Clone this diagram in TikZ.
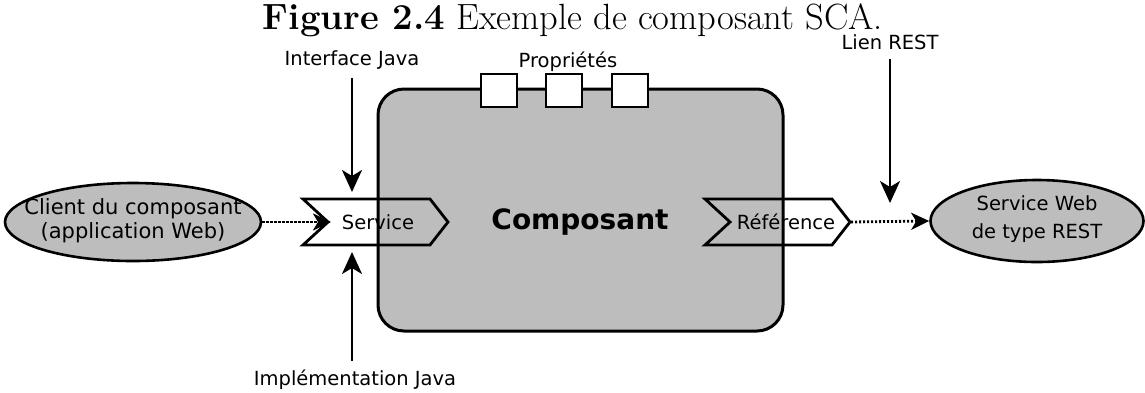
\documentclass[tikz,border=0pt]{standalone}
\usepackage{fontspec}
\setsansfont{DejaVu Sans}
\usetikzlibrary{arrows.meta,shapes.geometric}
\definecolor{compgray}{gray}{0.74}

\begin{document}
\begin{tikzpicture}[x=1pt,y=-1pt,
  lbl/.style={font=\fontsize{19.5}{22}\selectfont\sffamily, inner sep=0pt},
  inlbl/.style={font=\fontsize{20}{24}\selectfont\sffamily, inner sep=0pt, align=center},
  compbox/.style={draw=black, line width=3pt, fill=compgray, rounded corners=26pt},
  propbox/.style={draw=black, line width=2.6pt, fill=white},
  port/.style={draw=black, line width=2.8pt, line join=miter},
  actor/.style={ellipse, draw=black, line width=2.6pt, fill=compgray, inner sep=0pt},
  pointer/.style={line width=2.4pt, -{Stealth[length=22pt,width=20pt,inset=6pt]}},
  wire/.style={line width=2.8pt, dash pattern=on 2.2pt off 1.8pt, -{Stealth[length=18pt,width=17pt,inset=5pt]}}
]
\useasboundingbox (0,0) rectangle (1145,392);

% caption
\node[inner sep=0pt, anchor=base] (cap) at (573,29)
  {\fontsize{36.5}{40}\selectfont\textbf{Figure 2.4} Exemple de composant SCA.};

% component body
\draw[compbox] (378,89) rectangle (783,331);
\node[inner sep=0pt, font=\fontsize{28}{32}\selectfont\sffamily\bfseries] (comp) at (580,222) {Composant};

% property boxes on the top edge
\draw[propbox] (481,74) rectangle (517,107);
\draw[propbox] (546,74) rectangle (582,107);
\draw[propbox] (612,74) rectangle (648,107);
\node[lbl] (props) at (568,62) {Propriétés};

% service port
\draw[port] (303,199) -- (430,199) -- (448,222) -- (430,245) -- (303,245) -- (328,222) -- cycle;
\node[lbl] (svc) at (378,222) {Service};
\coordinate (svcin) at (331,222);
\coordinate (svctop) at (352,192);
\coordinate (svcbot) at (352,252);

% reference port
\draw[port] (705,199) -- (832,199) -- (850,222) -- (832,245) -- (705,245) -- (730,222) -- cycle;
\node[lbl] (ref) at (786,222) {Référence};
\coordinate (refout) at (851,222);
\coordinate (wiretop) at (890,203);

% client and remote service
\node[actor, minimum width=256pt, minimum height=78pt] (client) at (133,222) {};
\node[inlbl, font=\fontsize{21}{24}\selectfont\sffamily] (clienttxt) at (133,221) {Client du composant\\(application Web)};
\node[actor, minimum width=213pt, minimum height=82pt] (rest) at (1037,221) {};
\node[inlbl, font=\fontsize{19.5}{28}\selectfont\sffamily] (resttxt) at (1037,219) {Service Web\\de type REST};

% wires
\draw[wire] (client.east) -- (svcin);
\draw[wire] (refout) -- (rest.west);

% annotations
\node[lbl, outer ysep=9pt] (ifj) at (352,60) {Interface Java};
\node[lbl, outer ysep=9pt] (impl) at (355,380) {Implémentation Java};
\node[lbl, outer ysep=9pt] (lien) at (890,42) {Lien REST};
\draw[pointer] (ifj) -- (svctop);
\draw[pointer] (impl.north -| svcbot) -- (svcbot);
\draw[pointer] (lien) -- (wiretop);
\end{tikzpicture}
\end{document}
